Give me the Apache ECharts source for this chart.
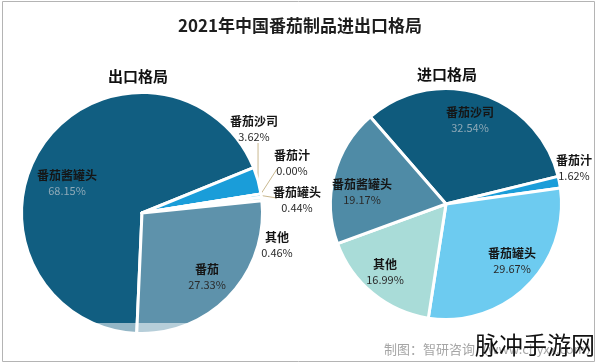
<!DOCTYPE html>
<html>
<head>
<meta charset="utf-8">
<script src="https://cdn.jsdelivr.net/npm/echarts@6/dist/echarts.min.js"></script>
<style>
  html, body { margin: 0; padding: 0; background: #ffffff; }
  #chart { width: 600px; height: 364px; }
</style>
</head>
<body>
<div id="chart"></div>
<script>
// ---- data ----
const chartTitle = '2021年中国番茄制品进出口格局';
const exportTitle = '出口格局';
const importTitle = '进口格局';
const exportNames = ['番茄酱罐头', '番茄沙司', '番茄汁', '番茄罐头', '其他', '番茄'];
const exportValues = [68.15, 3.62, 0.00, 0.44, 0.46, 27.33];
const importNames = ['番茄沙司', '番茄汁', '番茄罐头', '其他', '番茄酱罐头'];
const importValues = [32.54, 1.62, 29.67, 16.99, 19.17];
const sourceText = '制图：智研咨询（www.chyxx.com）';
const watermarkText = '脉冲手游网';

// ---- styles / layout ----
const exportColors = ['#115e81', '#1a9dd9', '#2aa8e0', '#6dcbf0', '#a9dcd8', '#5e92ab'];
const importColors = ['#0f5b7d', '#1a9dd9', '#6dcbf0', '#a9dcd8', '#4f8ba6'];
const exportLabelPos = [[67, 183], [254, 129], [292, 163], [297, 200], [277, 245], [207, 277]];
const importLabelPos = [[470, 120], [574, 168], [512, 261], [385, 272], [362, 192]];
const exportLine = [false, true, true, true, false, false];
const importLine = [false, false, false, false, false];
// end of leader line relative to label centre
const exportLineEnd = [null, [0, 14], [-15, 6], [-20, -2], null, null];
const exportDarkPct = [true, false, false, false, false, false];
const importDarkPct = [true, false, false, false, false];

const FONT = '"Noto Sans CJK SC", "Noto Sans", sans-serif';

function buildData(names, values, colors, lines, dark) {
  return names.map((n, i) => ({
    name: n,
    value: values[i],
    itemStyle: { color: colors[i] },
    labelLine: { show: lines[i] },
    label: {
      rich: {
        p: { fontSize: 11, fontFamily: FONT, color: dark[i] ? '#8fa9b7' : '#2a2a2a', lineHeight: 15 }
      }
    }
  }));
}

function labelFormatter(p) {
  return '{n|' + p.name + '}\n{p|' + Number(p.value).toFixed(2) + '%}';
}

function makeLayout(pos, ends) {
  return function (params) {
    const c = pos[params.dataIndex];
    const out = { x: c[0], y: c[1], align: 'center', verticalAlign: 'middle' };
    if (ends && ends[params.dataIndex] && params.labelLinePoints) {
      const p0 = params.labelLinePoints[0];
      const e = [c[0] + ends[params.dataIndex][0], c[1] + ends[params.dataIndex][1]];
      if (params.dataIndex === 1) e[0] = p0[0];
      out.labelLinePoints = [p0, e, e];
    }
    return out;
  };
}

const baseLabel = {
  show: true,
  position: 'outside',
  formatter: labelFormatter,
  align: 'center',
  verticalAlign: 'middle',
  rich: {
    n: { fontSize: 12, fontWeight: 'bold', fontFamily: FONT, color: '#151515', lineHeight: 15 },
    p: { fontSize: 11, fontFamily: FONT, color: '#2a2a2a', lineHeight: 15 }
  }
};

const chart = echarts.init(document.getElementById('chart'), null, { renderer: 'canvas' });
chart.setOption({
  backgroundColor: '#ffffff',
  animation: false,
  title: [
    { text: chartTitle, left: 'center', top: 12,
      textStyle: { fontSize: 17, fontWeight: 'bold', color: '#1e1e1e', fontFamily: FONT } },
    { text: exportTitle, left: 133, top: 64, textAlign: 'center',
      textStyle: { fontSize: 15, fontWeight: 'bold', color: '#111', fontFamily: FONT } },
    { text: importTitle, left: 442, top: 62, textAlign: 'center',
      textStyle: { fontSize: 15, fontWeight: 'bold', color: '#111', fontFamily: FONT } }
  ],
  series: [
    {
      type: 'pie',
      center: [142, 213],
      radius: 120.5,
      startAngle: 267.5,
      clockwise: true,
      avoidLabelOverlap: false,
      itemStyle: { borderColor: '#ffffff', borderWidth: 3 },
      label: baseLabel,
      labelLine: { length: 10, length2: 10, lineStyle: { color: '#c9b88f', width: 1 } },
      labelLayout: makeLayout(exportLabelPos, exportLineEnd),
      data: buildData(exportNames, exportValues, exportColors, exportLine, exportDarkPct)
    },
    {
      type: 'pie',
      center: [446, 204],
      radius: 115.5,
      startAngle: 131,
      clockwise: true,
      avoidLabelOverlap: false,
      itemStyle: { borderColor: '#ffffff', borderWidth: 3 },
      label: baseLabel,
      labelLine: { show: false },
      labelLayout: makeLayout(importLabelPos, null),
      data: buildData(importNames, importValues, importColors, importLine, importDarkPct)
    }
  ],
  graphic: [
    { type: 'rect', z: 100, silent: true,
      shape: { x: 0, y: 323, width: 300, height: 20 },
      style: { fill: 'rgba(255,255,255,0.55)' } },
    { type: 'rect', z: 101, silent: true,
      shape: { x: 2.5, y: 1.5, width: 592, height: 360 },
      style: { fill: null, stroke: '#b4b4b4', lineWidth: 1 } },
    { type: 'text', z: 102, silent: true, x: 384, y: 349,
      style: { text: sourceText, fontSize: 13, fontFamily: FONT, fill: '#a6a6a6', verticalAlign: 'middle' } },
    { type: 'text', z: 103, silent: true, x: 475, y: 345,
      style: { text: watermarkText, fontSize: 24, fontFamily: FONT, fill: '#111111', verticalAlign: 'middle' } }
  ]
});
</script>
</body>
</html>
